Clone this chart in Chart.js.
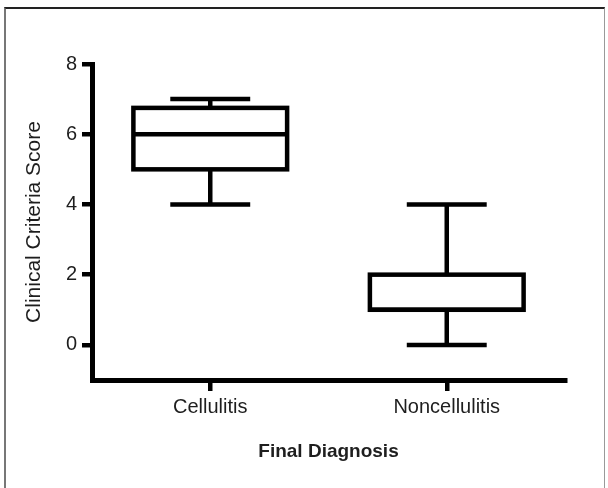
<!DOCTYPE html>
<html>
<head>
<meta charset="utf-8">
<script src="https://cdn.jsdelivr.net/npm/chart.js@4"></script>
<style>
    html, body { margin: 0; padding: 0; background: #fff; }
    #wrap { position: relative; width: 608px; height: 488px; overflow: hidden; }
    #frame {
        position: absolute; left: 4px; top: 7px; width: 601px; height: 490px;
        border-top: 2px solid #222; border-left: 2px solid #777; border-right: 1px solid #999;
        box-sizing: border-box;
    }
    canvas { position: absolute; left: 0; top: 0; }
</style>
</head>
<body>
<div id="wrap">
    <div id="frame"></div>
    <canvas id="chart" width="608" height="488"></canvas>
</div>
<script>
const categories = ['Cellulitis', 'Noncellulitis'];
const whiskerLow = [4, 0];
const q1 = [5, 1];
const medians = [6, 1];
const q3 = [6.75, 2];
const whiskerHigh = [7, 4];
const yTicks = [0, 2, 4, 6, 8];

const font = 'Liberation Sans, Arial, Helvetica, sans-serif';
const ink = '#1e1e1e';
const lineW = 4.5;

// whiskers behind the box; box outline and median on top
const boxPlot = {
    id: 'boxPlot',
    beforeDatasetsDraw(chart) {
        const ctx = chart.ctx;
        const y = chart.scales.y;
        const meta = chart.getDatasetMeta(0);
        ctx.save();
        ctx.strokeStyle = '#000';
        ctx.lineWidth = lineW;
        meta.data.forEach((bar, i) => {
            const cx = bar.x;
            const half = bar.width * 0.26;
            ctx.beginPath();
            ctx.moveTo(cx, y.getPixelForValue(q3[i]));
            ctx.lineTo(cx, y.getPixelForValue(whiskerHigh[i]));
            ctx.moveTo(cx, y.getPixelForValue(q1[i]));
            ctx.lineTo(cx, y.getPixelForValue(whiskerLow[i]));
            ctx.moveTo(cx - half, y.getPixelForValue(whiskerHigh[i]));
            ctx.lineTo(cx + half, y.getPixelForValue(whiskerHigh[i]));
            ctx.moveTo(cx - half, y.getPixelForValue(whiskerLow[i]));
            ctx.lineTo(cx + half, y.getPixelForValue(whiskerLow[i]));
            ctx.stroke();
        });
        ctx.restore();
    },
    afterDatasetsDraw(chart) {
        const ctx = chart.ctx;
        const y = chart.scales.y;
        const meta = chart.getDatasetMeta(0);
        ctx.save();
        ctx.strokeStyle = '#000';
        ctx.lineWidth = lineW;
        meta.data.forEach((bar, i) => {
            const top = y.getPixelForValue(q3[i]);
            const bot = y.getPixelForValue(q1[i]);
            const left = bar.x - bar.width / 2;
            ctx.strokeRect(left, top, bar.width, bot - top);
            const my = y.getPixelForValue(medians[i]);
            ctx.beginPath();
            ctx.moveTo(left, my);
            ctx.lineTo(left + bar.width, my);
            ctx.stroke();
        });
        ctx.restore();
    }
};

new Chart(document.getElementById('chart'), {
    type: 'bar',
    data: {
        labels: categories,
        datasets: [{
            data: categories.map((c, i) => [q1[i], q3[i]]),
            backgroundColor: '#fff',
            borderWidth: 0,
            categoryPercentage: 1,
            barPercentage: 0.65
        }]
    },
    options: {
        responsive: false,
        animation: false,
        layout: { padding: { left: 0, top: 64, right: 43, bottom: 0 } },
        plugins: {
            legend: { display: false },
            tooltip: { enabled: false }
        },
        scales: {
            x: {
                grid: { offset: false, drawOnChartArea: false, color: '#000', lineWidth: lineW, tickLength: 11 },
                border: { color: '#000', width: 5 },
                ticks: { color: ink, font: { family: font, size: 20 }, padding: 4, maxRotation: 0 },
                title: {
                    display: true, text: 'Final Diagnosis', color: ink,
                    font: { family: font, size: 19, weight: 'bold' },
                    padding: { top: 0, bottom: 25 }
                },
                afterFit: s => { s.height = 108; }
            },
            y: {
                min: -1,
                max: 8,
                afterBuildTicks: s => { s.ticks = yTicks.map(v => ({ value: v })); },
                grid: { drawOnChartArea: false, color: '#000', lineWidth: lineW, tickLength: 10 },
                border: { color: '#000', width: 5 },
                ticks: { color: ink, font: { family: font, size: 20 }, padding: 5 },
                title: {
                    display: true, text: 'Clinical Criteria Score', color: ink,
                    font: { family: font, size: 21 },
                    padding: { top: 22, bottom: 0 }
                },
                afterFit: s => { s.width = 92; }
            }
        }
    },
    plugins: [boxPlot]
});
</script>
</body>
</html>
